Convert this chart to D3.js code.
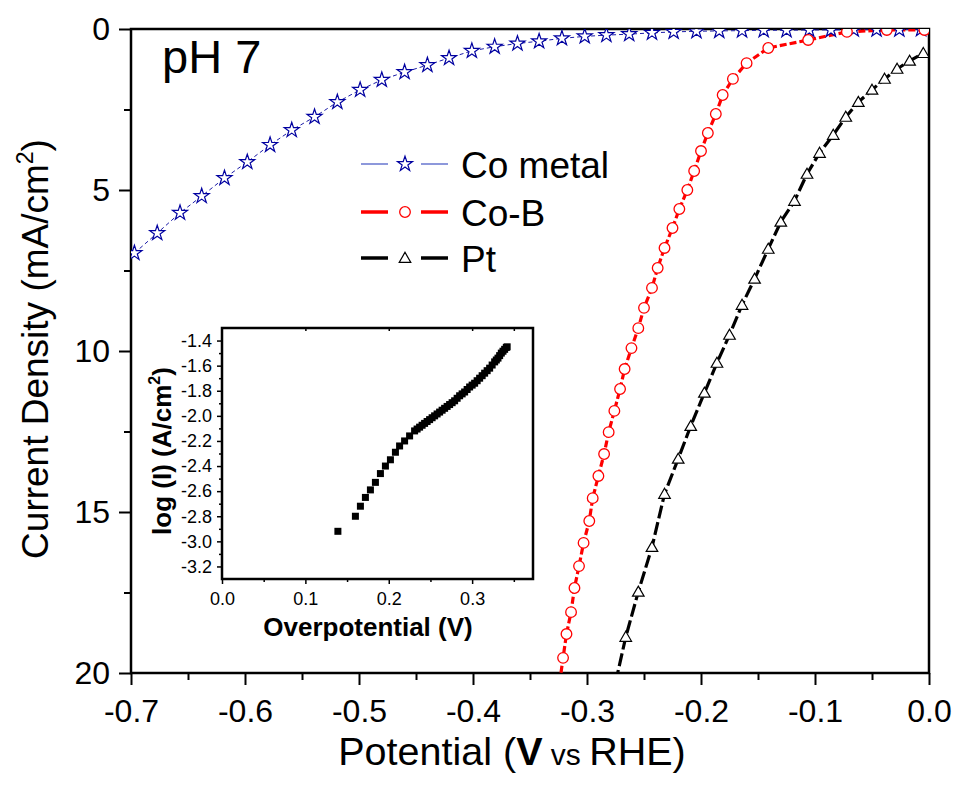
<!DOCTYPE html>
<html>
<head>
<meta charset="utf-8">
<script src="https://cdn.jsdelivr.net/npm/d3@7"></script>
<style>
  body { margin: 0; background: #fff; }
  svg text { font-family: "Liberation Sans", Arial, sans-serif; }
</style>
</head>
<body>
<svg id="chart" width="956" height="785"></svg>
<script>
// Co metal (stars)
const coMetalV = [-0.697, -0.677, -0.657, -0.638, -0.618, -0.598, -0.578, -0.559, -0.539, -0.519,
                  -0.499, -0.480, -0.460, -0.440, -0.421, -0.401, -0.381, -0.361, -0.342, -0.322,
                  -0.302, -0.283, -0.263, -0.243, -0.224, -0.204, -0.184, -0.164, -0.145, -0.125,
                  -0.105, -0.086, -0.066, -0.046, -0.026, -0.007];
const coMetalJ = [6.96, 6.34, 5.71, 5.19, 4.63, 4.13, 3.60, 3.14, 2.73, 2.27,
                  1.89, 1.58, 1.34, 1.12, 0.90, 0.68, 0.55, 0.45, 0.38, 0.29,
                  0.23, 0.19, 0.16, 0.12, 0.09, 0.07, 0.06, 0.05, 0.04, 0.04,
                  0.03, 0.03, 0.02, 0.02, 0.02, 0.01];

// Co-B (circles)
const coBV = [-0.321, -0.318, -0.314, -0.311, -0.307, -0.303, -0.298, -0.295, -0.290, -0.285,
              -0.281, -0.276, -0.271, -0.267, -0.261, -0.255, -0.250, -0.243, -0.238, -0.232,
              -0.225, -0.219, -0.212, -0.206, -0.200, -0.194, -0.187, -0.181, -0.172, -0.160,
              -0.141, -0.106, -0.072, -0.037, -0.004];
const coBJ = [19.53, 18.79, 18.11, 17.36, 16.68, 15.96, 15.28, 14.57, 13.88, 13.20,
              12.52, 11.86, 11.18, 10.56, 9.91, 9.29, 8.66, 8.04, 7.42, 6.80,
              6.18, 5.59, 5.00, 4.41, 3.79, 3.23, 2.64, 2.05, 1.55, 1.06,
              0.59, 0.34, 0.09, 0.03, 0.03];
const coBLineStart = [-0.324, 20.3]; // where the trace leaves the frame

// Pt (triangles)
const ptV = [-0.266, -0.255, -0.243, -0.232, -0.220, -0.209, -0.197, -0.186, -0.175, -0.164,
             -0.153, -0.141, -0.130, -0.118, -0.107, -0.096, -0.084, -0.073, -0.062, -0.050,
             -0.039, -0.028, -0.017, -0.005];
const ptJ = [18.88, 17.48, 16.09, 14.44, 13.35, 12.33, 11.30, 10.37, 9.50, 8.57,
             7.76, 6.83, 5.99, 5.34, 4.50, 3.85, 3.29, 2.73, 2.27, 1.89,
             1.55, 1.24, 0.99, 0.75];
const ptLineStart = [-0.275, 20.3];

// inset: Tafel plot of Co-B
const tafelEta = [0.139, 0.160, 0.166, 0.172, 0.178, 0.184, 0.190, 0.196, 0.202, 0.208,
                  0.213, 0.219, 0.225, 0.231, 0.234, 0.237, 0.240, 0.243, 0.246, 0.249,
                  0.252, 0.255, 0.258, 0.261, 0.264, 0.267, 0.270, 0.273, 0.276, 0.279,
                  0.282, 0.285, 0.288, 0.291, 0.294, 0.297, 0.300, 0.303, 0.306, 0.309,
                  0.312, 0.315, 0.318, 0.321, 0.324, 0.327, 0.329, 0.331, 0.333, 0.335,
                  0.337, 0.339, 0.341, 0.342];
const tafelLogI = [-2.92, -2.80, -2.72, -2.65, -2.59, -2.53, -2.46, -2.40, -2.35, -2.29,
                   -2.24, -2.20, -2.16, -2.12, -2.105, -2.09, -2.075, -2.06, -2.045, -2.03,
                   -2.015, -2.00, -1.985, -1.97, -1.955, -1.94, -1.925, -1.91, -1.895, -1.88,
                   -1.86, -1.84, -1.825, -1.81, -1.79, -1.77, -1.755, -1.74, -1.72, -1.70,
                   -1.68, -1.66, -1.64, -1.62, -1.595, -1.57, -1.555, -1.54, -1.52, -1.50,
                   -1.485, -1.47, -1.455, -1.45];

const xTicks = [-0.7, -0.6, -0.5, -0.4, -0.3, -0.2, -0.1, 0.0];
const yTicks = [0, 5, 10, 15, 20];
const insetXTicks = [0.0, 0.1, 0.2, 0.3];
const insetYTicks = [-1.4, -1.6, -1.8, -2.0, -2.2, -2.4, -2.6, -2.8, -3.0, -3.2];

const svg = d3.select("#chart");

const x = d3.scaleLinear().domain([-0.7, 0]).range([131, 929]);
const y = d3.scaleLinear().domain([0, 20]).range([29, 673]);

// clip for the traces
svg.append("defs").append("clipPath").attr("id", "plotClip")
  .append("rect")
  .attr("x", x.range()[0]).attr("y", y.range()[0])
  .attr("width", x.range()[1] - x.range()[0])
  .attr("height", y.range()[1] - y.range()[0]);

function fmt1(d) { return d.toFixed(1).replace("-0.0", "0.0"); }

// main axes
const xAxis = svg.append("g")
  .attr("transform", `translate(0,${y.range()[1]})`)
  .call(d3.axisBottom(x).tickValues(xTicks).tickSize(12).tickPadding(14).tickFormat(fmt1));
svg.append("g")
  .attr("transform", `translate(0,${y.range()[1]})`)
  .call(d3.axisBottom(x).tickValues(d3.range(-0.65, 0, 0.1)).tickSize(7).tickFormat(""));

const yAxis = svg.append("g")
  .attr("transform", `translate(${x.range()[0]},0)`)
  .call(d3.axisLeft(y).tickValues(yTicks).tickSize(12).tickPadding(9));
svg.append("g")
  .attr("transform", `translate(${x.range()[0]},0)`)
  .call(d3.axisLeft(y).tickValues([2.5, 7.5, 12.5, 17.5]).tickSize(7).tickFormat(""));

svg.selectAll(".domain").remove();
svg.selectAll(".tick line").attr("stroke", "#000").attr("stroke-width", 2);
xAxis.selectAll("text").attr("font-size", 32).attr("fill", "#000");
yAxis.selectAll("text").attr("font-size", 32).attr("fill", "#000");

// frame
svg.append("rect")
  .attr("x", x.range()[0]).attr("y", y.range()[0])
  .attr("width", x.range()[1] - x.range()[0])
  .attr("height", y.range()[1] - y.range()[0])
  .attr("fill", "none").attr("stroke", "#000").attr("stroke-width", 2.5);

// traces
const traces = svg.append("g").attr("clip-path", "url(#plotClip)");
const line = d3.line().x(d => x(d[0])).y(d => y(d[1]));

const coMetal = coMetalV.map((v, i) => [v, coMetalJ[i]]);
const coB = coBV.map((v, i) => [v, coBJ[i]]);
const pt = ptV.map((v, i) => [v, ptJ[i]]);

traces.append("path").datum(coMetal).attr("d", line)
  .attr("fill", "none").attr("stroke", "#1c1ca8").attr("stroke-width", 1)
  .attr("stroke-dasharray", "4,3");
traces.append("path").datum([coBLineStart].concat(coB)).attr("d", line)
  .attr("fill", "none").attr("stroke", "#ff0000").attr("stroke-width", 3.2)
  .attr("stroke-dasharray", "7,3");
traces.append("path").datum([ptLineStart].concat(pt)).attr("d", line)
  .attr("fill", "none").attr("stroke", "#000").attr("stroke-width", 3.2)
  .attr("stroke-dasharray", "13,4");

const starPath = d3.symbol().type(d3.symbolStar).size(70)();
const triPath = d3.symbol().type(d3.symbolTriangle).size(58)();

traces.selectAll(".star").data(coMetal).join("path")
  .attr("d", starPath)
  .attr("transform", d => `translate(${x(d[0])},${y(d[1])})`)
  .attr("fill", "#fff").attr("stroke", "#0000a0").attr("stroke-width", 1.2);
traces.selectAll(".circ").data(coB).join("circle")
  .attr("cx", d => x(d[0])).attr("cy", d => y(d[1])).attr("r", 5.3)
  .attr("fill", "#fff").attr("stroke", "#ff0000").attr("stroke-width", 1.3);
traces.selectAll(".tri").data(pt).join("path")
  .attr("d", triPath)
  .attr("transform", d => `translate(${x(d[0])},${y(d[1]) + 1})`)
  .attr("fill", "#fff").attr("stroke", "#000").attr("stroke-width", 1.2);

// axis titles
svg.append("text")
  .attr("x", 512).attr("y", 765).attr("text-anchor", "middle")
  .attr("font-size", 39.5).attr("fill", "#000")
  .call(t => {
    t.append("tspan").text("Potential (");
    t.append("tspan").attr("font-weight", "bold").text("V");
    t.append("tspan").attr("font-size", 30).text(" vs ");
    t.append("tspan").text("RHE)");
  });

svg.append("text")
  .attr("transform", "translate(48,349) rotate(-90)")
  .attr("text-anchor", "middle")
  .attr("font-size", 37).attr("fill", "#000")
  .call(t => {
    t.append("tspan").text("Current Density (mA/cm");
    t.append("tspan").attr("font-size", 23).attr("dy", -15).text("2");
    t.append("tspan").attr("dy", 15).text(")");
  });

svg.append("text")
  .attr("x", 162).attr("y", 73)
  .attr("font-size", 47).attr("fill", "#000")
  .text("pH 7");

// legend
const legendItems = [
  { label: "Co metal", color: "#5060c8", width: 1.3, marker: "star", y: 164 },
  { label: "Co-B", color: "#ff0000", width: 3.5, marker: "circle", y: 212 },
  { label: "Pt", color: "#000", width: 3.5, marker: "tri", y: 258 }
];
const legend = svg.append("g");
legendItems.forEach(item => {
  const g = legend.append("g").attr("transform", `translate(0,${item.y})`);
  g.append("line").attr("x1", 361).attr("x2", 388).attr("y1", 0).attr("y2", 0)
    .attr("stroke", item.color).attr("stroke-width", item.width);
  g.append("line").attr("x1", 421).attr("x2", 448).attr("y1", 0).attr("y2", 0)
    .attr("stroke", item.color).attr("stroke-width", item.width);
  if (item.marker === "star") {
    g.append("path").attr("d", starPath).attr("transform", "translate(405,0)")
      .attr("fill", "#fff").attr("stroke", "#0000a0").attr("stroke-width", 1.2);
  } else if (item.marker === "circle") {
    g.append("circle").attr("cx", 405).attr("cy", 0).attr("r", 5.3)
      .attr("fill", "#fff").attr("stroke", "#ff0000").attr("stroke-width", 1.3);
  } else {
    g.append("path").attr("d", triPath).attr("transform", "translate(405,1)")
      .attr("fill", "#fff").attr("stroke", "#000").attr("stroke-width", 1.2);
  }
  g.append("text").attr("x", 461).attr("y", 14)
    .attr("font-size", 37).attr("fill", "#000").text(item.label);
});

// inset
const ix = d3.scaleLinear().domain([0, 0.373]).range([222, 533]);
const iy = d3.scaleLinear().domain([-3.3, -1.3]).range([579, 328]);
const inset = svg.append("g");

inset.append("rect")
  .attr("x", ix.range()[0]).attr("y", iy.range()[1])
  .attr("width", ix.range()[1] - ix.range()[0])
  .attr("height", iy.range()[0] - iy.range()[1])
  .attr("fill", "#fff");

const ixAxis = inset.append("g")
  .attr("transform", `translate(0,${iy.range()[0]})`)
  .call(d3.axisBottom(ix).tickValues(insetXTicks).tickSize(5).tickPadding(8).tickFormat(d => d.toFixed(1)));
inset.append("g")
  .attr("transform", `translate(0,${iy.range()[0]})`)
  .call(d3.axisBottom(ix).tickValues([0.05, 0.15, 0.25, 0.35]).tickSize(3).tickFormat(""));
inset.append("g")
  .attr("transform", `translate(0,${iy.range()[1]})`)
  .call(d3.axisBottom(ix).tickValues([0.1, 0.2, 0.3, 0.35]).tickSize(3).tickFormat(""));
const iyAxis = inset.append("g")
  .attr("transform", `translate(${ix.range()[0]},0)`)
  .call(d3.axisLeft(iy).tickValues(insetYTicks).tickSize(5).tickPadding(5).tickFormat(d => d.toFixed(1)));
inset.append("g")
  .attr("transform", `translate(${ix.range()[0]},0)`)
  .call(d3.axisLeft(iy).tickValues([-1.5, -1.7, -1.9, -2.1, -2.3, -2.5, -2.7, -2.9, -3.1]).tickSize(3).tickFormat(""));

inset.selectAll(".domain").remove();
inset.selectAll(".tick line").attr("stroke", "#000").attr("stroke-width", 1.5);
ixAxis.selectAll("text").attr("font-size", 18).attr("fill", "#000");
iyAxis.selectAll("text").attr("font-size", 18).attr("fill", "#000");

inset.append("rect")
  .attr("x", ix.range()[0]).attr("y", iy.range()[1])
  .attr("width", ix.range()[1] - ix.range()[0])
  .attr("height", iy.range()[0] - iy.range()[1])
  .attr("fill", "none").attr("stroke", "#000").attr("stroke-width", 2.5);

inset.selectAll(".sq").data(tafelEta.map((e, i) => [e, tafelLogI[i]])).join("rect")
  .attr("x", d => ix(d[0]) - 3.5).attr("y", d => iy(d[1]) - 3.5)
  .attr("width", 7).attr("height", 7).attr("fill", "#000");

inset.append("text")
  .attr("x", 368).attr("y", 636).attr("text-anchor", "middle")
  .attr("font-size", 26).attr("font-weight", "bold").attr("fill", "#000")
  .text("Overpotential (V)");

inset.append("text")
  .attr("transform", "translate(171,451) rotate(-90)")
  .attr("text-anchor", "middle")
  .attr("font-size", 26).attr("font-weight", "bold").attr("fill", "#000")
  .call(t => {
    t.append("tspan").text("log (I) (A/cm");
    t.append("tspan").attr("font-size", 16).attr("dy", -11).text("2");
    t.append("tspan").attr("dy", 11).text(")");
  });
</script>
</body>
</html>
